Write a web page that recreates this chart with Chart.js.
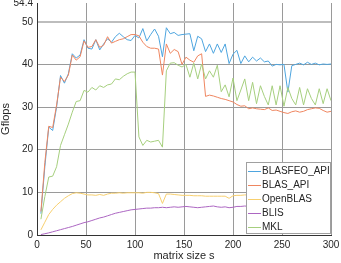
<!DOCTYPE html>
<html><head><meta charset="utf-8">
<script src="https://cdn.jsdelivr.net/npm/chart.js@4/dist/chart.umd.min.js"></script>
<style>html,body{margin:0;padding:0;background:#fff}#wrap{width:341px;height:263px;position:relative}</style>
</head><body><div id="wrap"><canvas id="c" width="341" height="263"></canvas></div>
<script>
const sizes = [];
for (let s = 4; s <= 300; s += 4) sizes.push(s);

const blasfeoApi = [5,16,25.3,24.5,30,37.4,35.6,37.8,42.5,41.5,42.2,45.8,43.8,43.6,45.8,43.4,44.8,46,45.2,46.5,
  47.3,46.5,45.8,45.6,46.8,46.2,48.4,45.5,47,48.3,46.6,41.8,48.6,47.2,47.5,46.8,47,47.1,47.2,43.2,
  46.6,46,43,44.8,42.6,44.8,42.8,44.8,40.2,42.4,43.3,40.2,42,40.6,41.7,40.8,41.5,40.6,40.8,39.6,
  40,39.9,40,33.5,39.7,40,40.3,39.9,40.5,40,40.3,39.9,40.1,40,40.1];
const blasApi = [5.5,17,25.5,25.2,30.5,37,36,37.5,42.2,41,41.8,45.5,44,44.2,45.8,44,44.5,46.5,45,45.4,
  45.8,46,46.5,47,47,46.7,45.2,44.2,43.8,43.8,43.6,37.5,44.8,42.6,43.5,43,40,41.7,41,40.5,
  42,42.5,32.5,32.8,32.6,32.3,32,31.8,31.5,31.2,30.6,30.2,30.3,29.6,29.8,29.6,29.5,29.4,29.8,29.2,
  29.3,29,28.7,28.5,28.9,29.1,28.8,29,29.4,29.6,29.8,29.7,29.2,28.8,29];
const openBlas = [1.2,3,4.8,6,7,7.8,8.6,9.2,9.7,9.9,9.8,9.6,9.4,9.4,9.3,9.5,9.3,9.6,9.8,9.8,
  9.9,9.8,9.9,9.9,9.9,9.9,9.8,10,10,9.9,9.7,7.4,9.6,9.6,9.5,9.4,9.3,9.3,9.3,9.2,
  9.2,9.2,9.1,9.1,9.1,9.1,9.1,9.1,8.6,9.2,9.3,9.3,9.4,9.4,9.4,9.4,9.5,9.4,9.4,9.5,
  9.5,9.4,9.5,9.5,9.5,9.4,9.5,9.5,9.6,9.5,9.5,9.6,9.5,9.5,9.6];
const blis = [0.1,0.3,0.5,0.75,1,1.25,1.5,1.75,2,2.3,2.6,2.9,3.1,3.4,3.7,4,4.2,4.5,4.8,5.1,
  5.3,5.5,5.7,5.9,6,6.1,6.2,6.3,6.3,6.4,6.4,6.5,6.4,6.5,6.6,6.5,6.6,6.7,6.6,6.5,
  6.4,6.5,6.6,6.7,6.8,6.6,6.5,6.6,6.4,6.5,6.7,6.7,6.8,6.7,6.8,6.8,6.7,6.8,6.9,6.8,
  6.8,6.9,6.8,6.9,6.9,6.8,6.9,7,6.9,6.9,7,6.9,6.9,7,6.9];
const mkl = [3.7,9,13.6,13.8,16,21,23.5,26,28.8,31.3,31.5,33.9,33.5,34.6,34,35,34.6,35.2,35.4,36.6,
  36.4,37.2,37.8,38.2,38.2,23,21,22.2,21.8,22,22.2,20.6,38.5,40.3,40.4,39.8,39.4,40,37,40.3,
  36.6,40.1,36.6,38.5,37,39.8,33.6,35.2,32.4,36.8,31.5,34,36.6,31.5,35.8,30.8,35,32.5,30.5,35,
  30.5,35,30.2,34.6,32,30.5,34.6,30.5,34.3,32,30.5,34.3,30.8,34.3,31.5];

const seriesNames = ['BLASFEO_API','BLAS_API','OpenBLAS','BLIS','MKL'];
const seriesColors = ['#4ea5df','#ef8660','#f7cf6e','#ac66c2','#a6cf7e'];
const seriesData = [blasfeoApi, blasApi, openBlas, blis, mkl];
const yTicks = [0,10,20,30,40,50,54.4];
const xTicks = [0,50,100,150,200,250,300];

const FONT = {family:'"Liberation Sans", Arial, sans-serif', size:10};
const TFONT = {family:'"Liberation Sans", Arial, sans-serif', size:11, lineHeight:1};
const TXT = '#262626';

const legendPlugin = {
  id:'boxLegend',
  afterDraw(chart){
    const ctx = chart.ctx;
    const x0 = 246, y0 = 162, w = 85, h = 72;
    ctx.save();
    ctx.fillStyle = '#fff';
    ctx.fillRect(x0, y0, w, h);
    ctx.strokeStyle = '#a0a0a0';
    ctx.lineWidth = 1;
    ctx.strokeRect(x0+0.5, y0+0.5, w-1, h-1);
    ctx.font = '10px "Liberation Sans", Arial, sans-serif';
    ctx.textBaseline = 'middle';
    ctx.textAlign = 'left';
    seriesNames.forEach((n,i)=>{
      const y = y0 + 9 + i*14;
      ctx.fillStyle = seriesColors[i];
      ctx.fillRect(x0+2, y, 13, 1);
      ctx.fillStyle = TXT;
      ctx.fillText(n, x0+16, y);
    });
    ctx.restore();
  }
};

new Chart(document.getElementById('c'), {
  type:'line',
  data:{
    datasets: seriesNames.map((n,i)=>({
      label:n,
      data: sizes.map((s,j)=>({x:s, y:seriesData[i][j]})),
      borderColor: seriesColors[i],
      borderWidth: 1,
      pointRadius: 0,
      tension: 0,
      fill: false,
      order: 4 - i
    }))
  },
  options:{
    responsive:false,
    animation:false,
    layout:{padding:{top:3,right:10,left:0,bottom:0}},
    plugins:{legend:{display:false}, tooltip:{enabled:false}},
    scales:{
      x:{
        type:'linear', min:0, max:300,
        afterBuildTicks(scale){ scale.ticks = xTicks.map(v=>({value:v})); },
        afterFit(scale){ scale.height = 28; scale.paddingLeft = 0; scale.paddingRight = 0; },
        grid:{color:'#9a9a9a', lineWidth:1, drawTicks:false},
        border:{color:'#333', width:1},
        ticks:{font:FONT, color:TXT, padding:4, maxRotation:0},
        title:{display:true, text:'matrix size s', font:TFONT, color:TXT, padding:{top:0,bottom:2}}
      },
      y:{
        type:'linear', min:0, max:54.4,
        afterBuildTicks(scale){ scale.ticks = yTicks.map(v=>({value:v})); },
        afterFit(scale){ scale.width = 37; scale.paddingTop = 0; scale.paddingBottom = 0; },
        grid:{
          color:(c)=> c.tick && c.tick.value === 54.4 ? 'rgba(0,0,0,0)' : (c.tick && c.tick.value === 50 ? '#bdbdbd' : '#9a9a9a'),
          lineWidth:(c)=> c.tick && c.tick.value === 50 ? 2 : 1,
          drawTicks:false
        },
        border:{color:'#333', width:1},
        ticks:{font:FONT, color:TXT, padding:4, callback:(v)=>String(v)},
        title:{display:true, text:'Gflops', font:TFONT, color:TXT, padding:{top:0,bottom:0}}
      }
    }
  },
  plugins:[legendPlugin]
});
</script></body></html>
